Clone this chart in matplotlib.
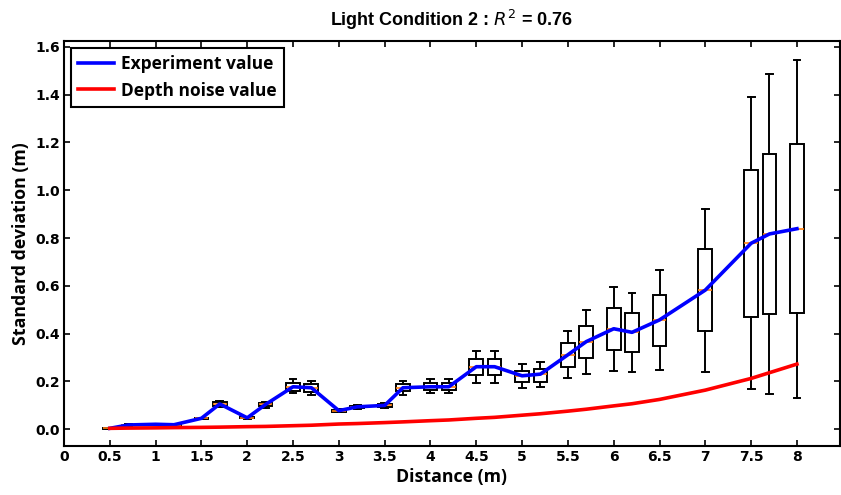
import matplotlib
matplotlib.use("Agg")
import matplotlib.pyplot as plt

# distances (m) and box statistics
distances = [0.5, 0.7, 1.0, 1.2, 1.5, 1.7, 2.0, 2.2, 2.5, 2.7, 3.0, 3.2, 3.5, 3.7,
             4.0, 4.2, 4.5, 4.7, 5.0, 5.2, 5.5, 5.7, 6.0, 6.2, 6.5, 7.0, 7.5, 7.7, 8.0]
medians = [0.003, 0.017, 0.020, 0.018, 0.045, 0.105, 0.047, 0.103, 0.177, 0.173, 0.077, 0.093,
           0.099, 0.173, 0.177, 0.177, 0.261, 0.261, 0.223, 0.230, 0.311, 0.366, 0.420, 0.405,
           0.457, 0.582, 0.778, 0.817, 0.839]
q1 = [0.002, 0.015, 0.018, 0.016, 0.043, 0.097, 0.045, 0.095, 0.160, 0.156, 0.073, 0.088,
      0.093, 0.159, 0.163, 0.163, 0.226, 0.226, 0.196, 0.198, 0.261, 0.296, 0.331, 0.321,
      0.349, 0.410, 0.470, 0.482, 0.485]
q3 = [0.004, 0.019, 0.022, 0.020, 0.047, 0.112, 0.050, 0.108, 0.191, 0.187, 0.081, 0.098,
      0.105, 0.187, 0.193, 0.191, 0.292, 0.293, 0.244, 0.250, 0.361, 0.430, 0.507, 0.487,
      0.561, 0.753, 1.085, 1.150, 1.192]
whisker_lo = [0.001, 0.014, 0.017, 0.015, 0.042, 0.093, 0.043, 0.090, 0.149, 0.142, 0.070, 0.084,
              0.088, 0.142, 0.149, 0.149, 0.194, 0.194, 0.172, 0.175, 0.214, 0.230, 0.243, 0.239,
              0.247, 0.239, 0.166, 0.147, 0.131]
whisker_hi = [0.005, 0.020, 0.023, 0.021, 0.048, 0.116, 0.052, 0.112, 0.209, 0.202, 0.084, 0.102,
              0.110, 0.202, 0.209, 0.209, 0.327, 0.327, 0.272, 0.279, 0.409, 0.497, 0.595, 0.568,
              0.666, 0.921, 1.389, 1.487, 1.547]
depth_noise = [0.003, 0.004, 0.005, 0.006, 0.007, 0.008, 0.010, 0.011, 0.014, 0.016, 0.021, 0.023,
               0.027, 0.030, 0.035, 0.038, 0.045, 0.049, 0.058, 0.064, 0.075, 0.083, 0.097, 0.106,
               0.124, 0.163, 0.212, 0.236, 0.272]

x_ticks = [0, 0.5, 1, 1.5, 2, 2.5, 3, 3.5, 4, 4.5, 5, 5.5, 6, 6.5, 7, 7.5, 8]
x_ticklabels = ["0", "0.5", "1", "1.5", "2", "2.5", "3", "3.5", "4", "4.5", "5", "5.5",
                "6", "6.5", "7", "7.5", "8"]
y_ticks = [0.0, 0.2, 0.4, 0.6, 0.8, 1.0, 1.2, 1.4, 1.6]

plt.rcParams["mathtext.fontset"] = "dejavusans"

fig = plt.figure(figsize=(8.41, 4.95), dpi=100)
ax = fig.add_axes([64 / 841, 1 - 446 / 495, (840 - 64) / 841, (446 - 41) / 495])

stats = [dict(med=m, q1=a, q3=b, whislo=lo, whishi=hi, fliers=[])
         for m, a, b, lo, hi in zip(medians, q1, q3, whisker_lo, whisker_hi)]
ax.bxp(stats, positions=distances, widths=0.15, showfliers=False, patch_artist=True,
       manage_ticks=False,
       boxprops=dict(facecolor="white", edgecolor="black", linewidth=1.4),
       whiskerprops=dict(color="black", linewidth=1.4),
       capprops=dict(color="black", linewidth=1.4),
       medianprops=dict(color="#ff7f0e", linewidth=1.2))

ax.plot(distances, medians, color="blue", linewidth=2.6, label="Experiment value", zorder=5)
ax.plot(distances, depth_noise, color="red", linewidth=2.6, label="Depth noise value", zorder=5)

ax.set_xlim(0, 8.47)
ax.set_ylim(-0.071, 1.625)
ax.set_xticks(x_ticks)
ax.set_xticklabels(x_ticklabels)
ax.set_yticks(y_ticks)
ax.set_yticklabels([f"{v:.1f}" for v in y_ticks])
ax.tick_params(direction="in", top=True, right=True, length=4, width=1.2, labelsize=10, pad=3)
for lab in ax.get_xticklabels() + ax.get_yticklabels():
    lab.set_fontweight("bold")
for sp in ax.spines.values():
    sp.set_linewidth(1.5)

ax.set_xlabel("Distance (m)", fontsize=12.8, fontweight="bold", family="Open Sans", labelpad=3)
ax.set_ylabel("Standard deviation (m)", fontsize=12.8, fontweight="bold", family="Open Sans")
ax.set_title("Light Condition 2 : $R^2$ = 0.76", fontsize=13, fontweight="bold",
             family="Liberation Sans", pad=11)

leg = ax.legend(loc="upper left", fancybox=False, framealpha=1, edgecolor="black",
                prop=dict(family="Open Sans", weight="bold", size=12.5),
                handlelength=2.1, handletextpad=0.4, borderaxespad=0.4)
leg.get_frame().set_linewidth(1.5)

fig.savefig("out.png", dpi=100)
